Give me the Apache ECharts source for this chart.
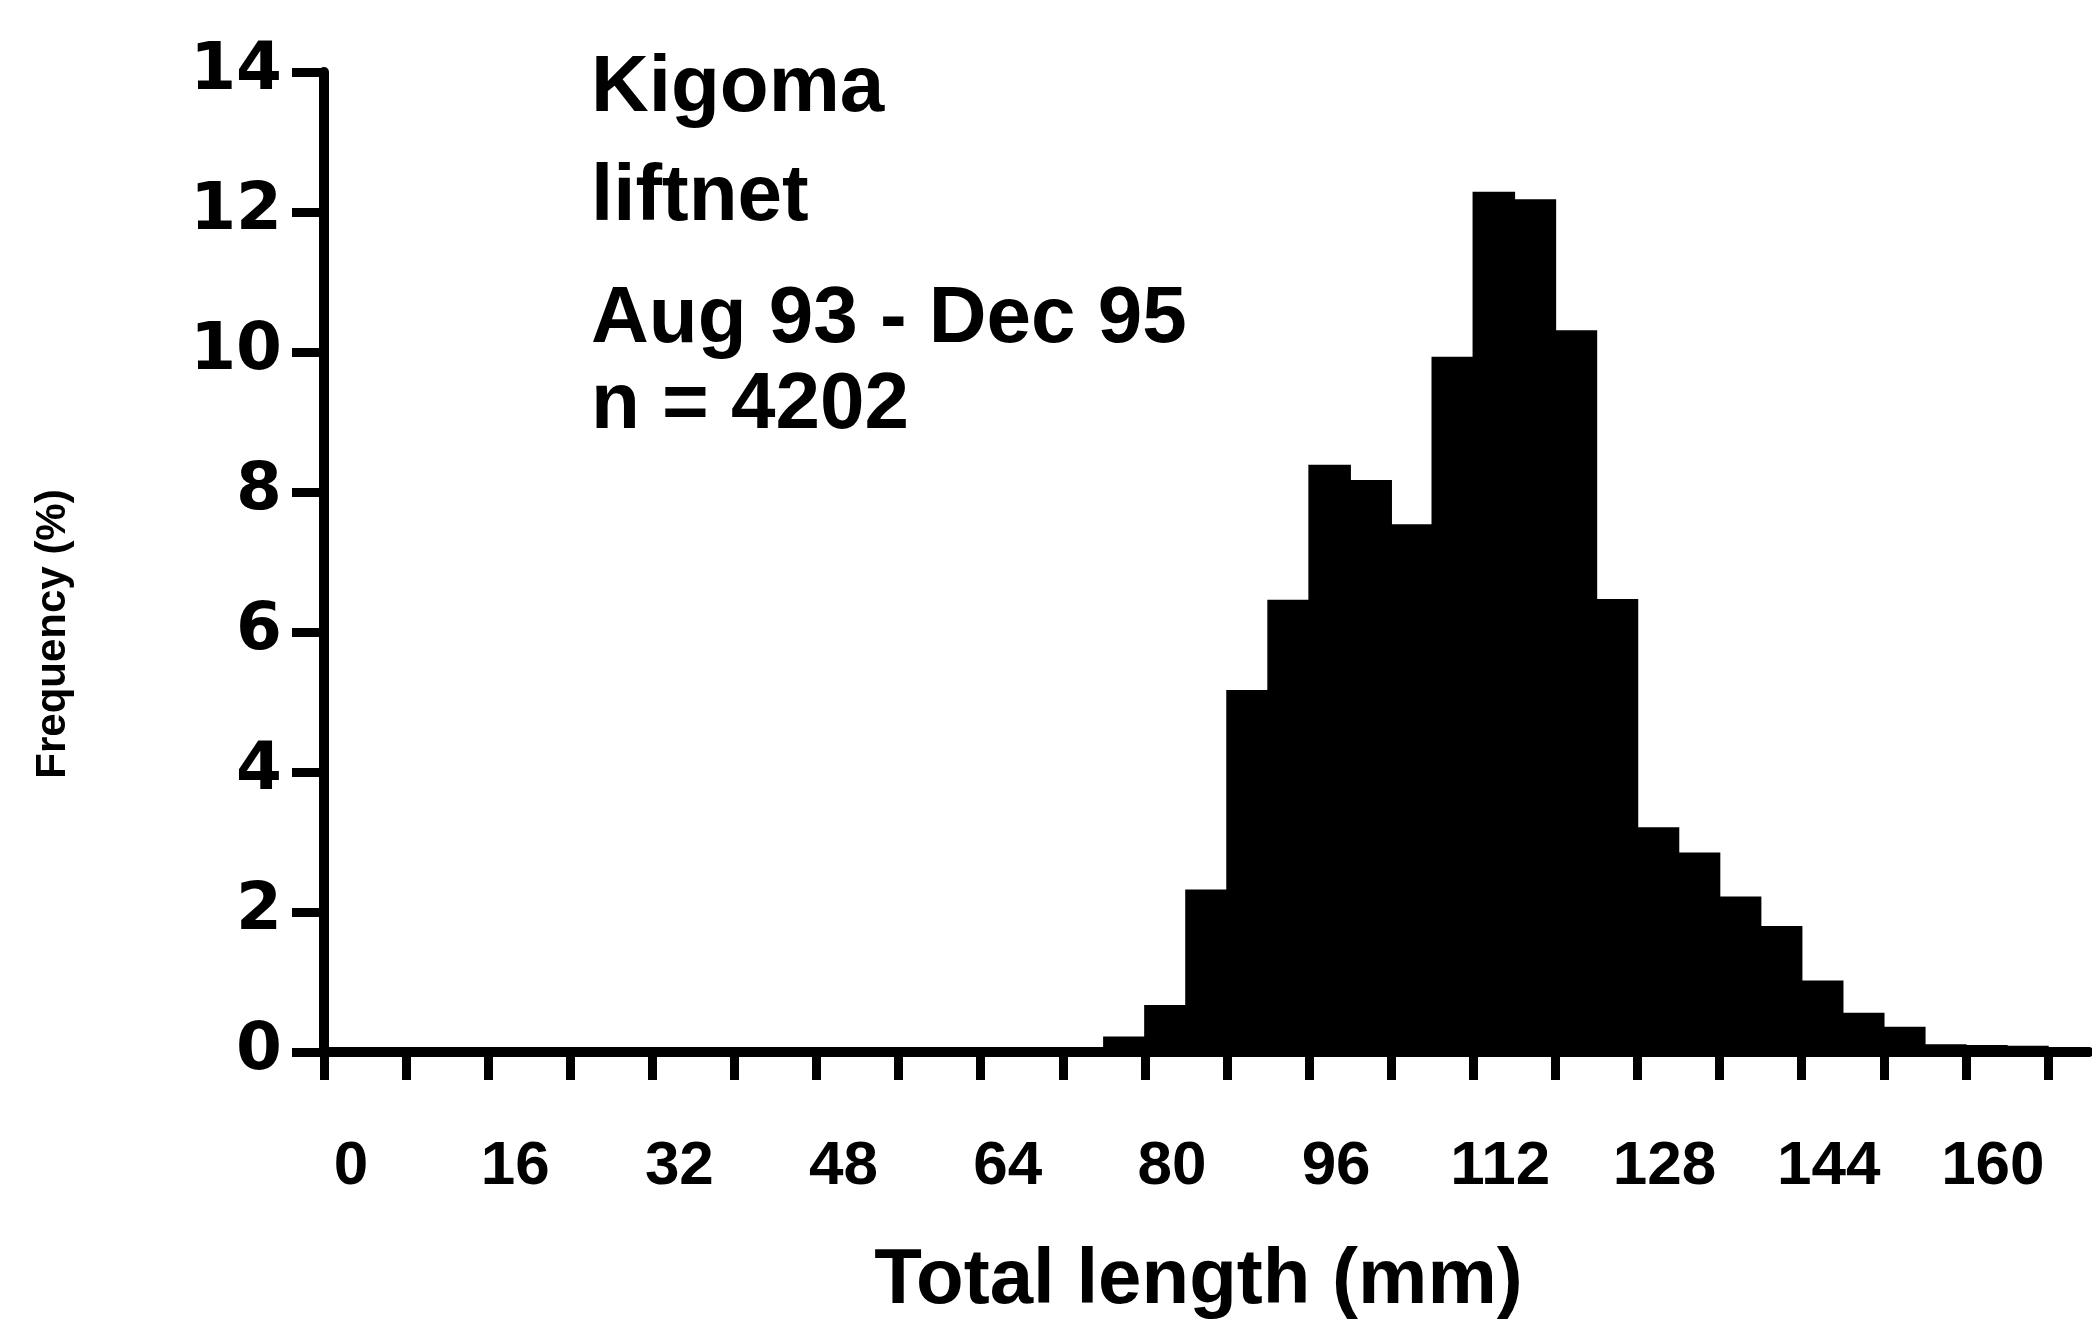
<!DOCTYPE html>
<html><head><meta charset="utf-8">
<script src="https://cdn.jsdelivr.net/npm/echarts@6/dist/echarts.min.js"></script>
<style>html,body{margin:0;padding:0;background:#fff}#c{width:2092px;height:1339px}</style>
</head><body><div id="c"></div>
<script>
// Histogram bins (total length, mm): start of each 4 mm bin
const binStarts = [0,4,8,12,16,20,24,28,32,36,40,44,48,52,56,60,64,68,72,76,80,84,88,92,96,100,104,108,112,116,120,124,128,132,136,140,144,148,152,156,160,164,168];
const binWidth = 4;
// Frequency (%) per bin
const frequency = [0,0,0,0,0,0.02,0.02,0.02,0.02,0.02,0.02,0.02,0.02,0.02,0.02,0.02,0.02,0.03,0.06,0.21,0.66,2.31,5.16,6.45,8.38,8.16,7.53,9.92,12.28,12.17,10.3,6.46,3.2,2.84,2.21,1.79,1.01,0.55,0.35,0.1,0.09,0.08,0.03];
const xTickValues = [0,8,16,24,32,40,48,56,64,72,80,88,96,104,112,120,128,136,144,152,160,168];
const xLabelValues = [0,16,32,48,64,80,96,112,128,144,160];
const yTickValues = [0,2,4,6,8,10,12,14];
const annotationLines = ['Kigoma','liftnet','Aug 93 - Dec 95','n = 4202'];
const xTitle = 'Total length (mm)';
const yTitle = 'Frequency (%)';

const FONT = "'Liberation Sans', Arial, Helvetica, sans-serif";
const FONT_WIDE = "'DejaVu Sans', 'Liberation Sans', sans-serif";
const chart = echarts.init(document.getElementById('c'), null, {renderer:'canvas'});
const annTop = [49, 158, 280, 366];
const option = {
  animation: false,
  backgroundColor: '#fff',
  grid: {left: 324, right: 3, top: 72, bottom: 287},
  xAxis: {
    type: 'value', min: 0, max: 172,
    axisLine: {show: true, onZero: false, lineStyle: {color: '#000', width: 10}},
    axisTick: {show: true, customValues: xTickValues, length: 28, lineStyle: {color: '#000', width: 9}},
    axisLabel: {customValues: xLabelValues, fontSize: 62, fontWeight: 'bold', fontFamily: FONT, color: '#000', margin: 84, padding: [0,0,0,54]},
    splitLine: {show: false},
    name: xTitle, nameLocation: 'middle', nameGap: 190,
    nameTextStyle: {fontSize: 78, fontWeight: 'bold', fontFamily: FONT, color: '#000', padding: [0,16,0,0]}
  },
  yAxis: {
    type: 'value', min: 0, max: 14,
    axisLine: {show: true, onZero: false, lineStyle: {color: '#000', width: 10}},
    axisTick: {show: true, customValues: yTickValues, length: 32, lineStyle: {color: '#000', width: 9}},
    axisLabel: {customValues: yTickValues, fontSize: 66, fontWeight: 'bold', fontFamily: FONT_WIDE, color: '#000', margin: 42},
    splitLine: {show: false},
    name: yTitle, nameLocation: 'middle', nameGap: 250, nameRotate: 90,
    nameTextStyle: {fontSize: 42, fontWeight: 'bold', fontFamily: FONT, color: '#000', padding: [0,144,0,0]}
  },
  graphic: annotationLines.map((t, i) => ({
    type: 'text', left: 591, top: annTop[i], z: 10,
    style: {text: t, fontSize: 80, fontWeight: 'bold', fontFamily: FONT, fill: '#000'}
  })),
  series: [{
    type: 'custom',
    data: binStarts.map((s, i) => [s, s + binWidth, frequency[i]]),
    encode: {x: [0, 1], y: 2},
    renderItem: function (params, api) {
      const p0 = api.coord([api.value(0), 0]);
      const p1 = api.coord([api.value(1), api.value(2)]);
      return {type: 'rect', shape: {x: p0[0], y: p1[1], width: p1[0] - p0[0], height: p0[1] - p1[1]}, style: {fill: '#000', stroke: '#000', lineWidth: 1.5}};
    }
  }]
};
chart.setOption(option);
</script></body></html>
